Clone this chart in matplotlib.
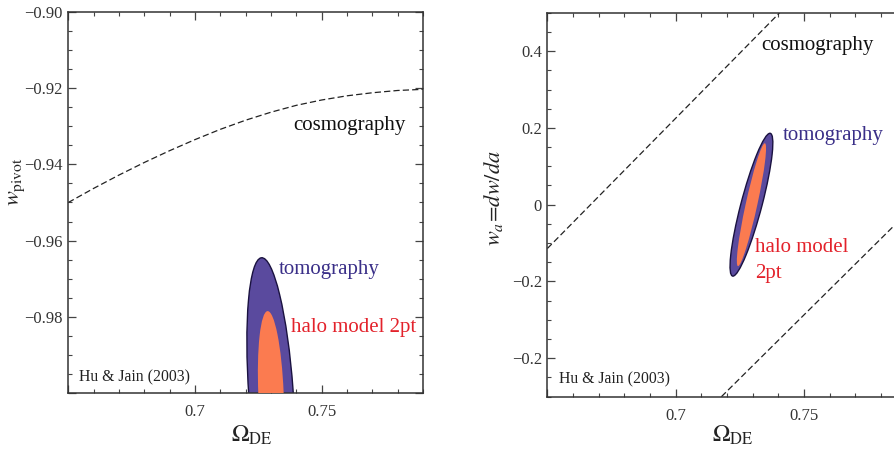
import numpy as np
import matplotlib
matplotlib.use("Agg")
import matplotlib.pyplot as plt
from matplotlib.patches import Ellipse

plt.rcParams['font.family'] = ['Liberation Serif', 'DejaVu Serif']
plt.rcParams['mathtext.fontset'] = 'stix'

# cosmography curve, w_pivot vs Omega_DE
omega_cosmo = [0.65, 0.66, 0.67, 0.68, 0.69, 0.70, 0.71, 0.72,
               0.73, 0.74, 0.75, 0.76, 0.77, 0.78, 0.79]
wpivot_cosmo = [-0.9500, -0.9463, -0.9428, -0.9395, -0.9364, -0.9335, -0.9308,
                -0.9284, -0.9263, -0.9245, -0.9231, -0.9220, -0.9212, -0.9206,
                -0.9203]

# cosmography bounds, w_a vs Omega_DE (two straight edges)
omega_cosmo_hi = [0.65, 0.7405]
wa_cosmo_hi = [-0.114, 0.5]
omega_cosmo_lo = [0.7178, 0.79]
wa_cosmo_lo = [-0.5, -0.022]

# error ellipses: centre, sigma_x, sigma_y, correlation
tomo_pivot = dict(center=(0.730, -1.0), sx=0.00951, sy=0.0355, rho=-0.379)
halo_pivot = dict(center=(0.730, -1.0), sx=0.00517, sy=0.0215, rho=-0.252)
tomo_wa = dict(center=(0.7295, 0.0), sx=0.00834, sy=0.186, rho=0.864)
halo_wa = dict(center=(0.7295, 0.0), sx=0.00569, sy=0.160, rho=0.915)

purple = '#5a4a9e'
coral = '#fb7b50'
navy = '#3a2f88'
red = '#e3222b'


def cov_ellipse(p, **kw):
    sx, sy, rho = p['sx'], p['sy'], p['rho']
    cov = np.array([[sx * sx, rho * sx * sy], [rho * sx * sy, sy * sy]])
    vals, vecs = np.linalg.eigh(cov)
    ang = np.degrees(np.arctan2(vecs[1, 1], vecs[0, 1]))
    return Ellipse(p['center'], 2 * np.sqrt(vals[1]), 2 * np.sqrt(vals[0]),
                   angle=ang, **kw)


def style_axes(ax):
    for s in ax.spines.values():
        s.set_color('#333333')
        s.set_linewidth(1.1)
    ax.tick_params(which='both', direction='in', top=True, right=True,
                   colors='#444444', labelcolor='#333333', labelsize=12)
    ax.tick_params(which='major', length=6, width=0.9)
    ax.tick_params(which='minor', length=3, width=0.8)
    ax.tick_params(axis='x', pad=8)
    ax.tick_params(axis='y', pad=4)


fig = plt.figure(figsize=(8.95, 4.49), dpi=100)

# left panel: w_pivot
ax1 = fig.add_axes([0.0763, 0.1247, 0.3963, 0.8486])
ax1.plot(omega_cosmo, wpivot_cosmo, color='#222222', lw=0.9,
         linestyle=(0, (5, 2.5)))
ax1.add_patch(cov_ellipse(tomo_pivot, facecolor=purple, edgecolor='#1a1240',
                          lw=1.0, zorder=2))
ax1.add_patch(cov_ellipse(halo_pivot, facecolor=coral, edgecolor='none',
                          zorder=3))
ax1.set_xlim(0.65, 0.79)
ax1.set_ylim(-1.0, -0.90)
ax1.set_xticks([0.65, 0.70, 0.75], ['', '0.7', '0.75'])
ax1.set_xticks(np.arange(0.65, 0.7901, 0.01), minor=True)
ax1.set_yticks([-1.0, -0.98, -0.96, -0.94, -0.92, -0.90],
               ['', '\u22120.98', '\u22120.96', '\u22120.94', '\u22120.92',
                '\u22120.90'])
ax1.set_yticks(np.arange(-1.0, -0.8999, 0.005), minor=True)
style_axes(ax1)

ax1.text(0.7388, -0.9299, 'cosmography', fontsize=15, color='#111111',
         va='center')
ax1.text(0.7329, -0.9675, 'tomography', fontsize=15, color=navy, va='center')
ax1.text(0.7379, -0.9828, 'halo model 2pt', fontsize=15, color=red,
         va='center')
ax1.text(0.6542, -0.9959, 'Hu & Jain (2003)', fontsize=11.3,
         color='#222222', va='center')
ax1.text(0.518, -0.112, r'$\Omega_{\rm DE}$', transform=ax1.transAxes,
         fontsize=17, ha='center', va='center', color='#222222')
ax1.text(-0.145, 0.555, r'$w_{\rm pivot}$', transform=ax1.transAxes,
         fontsize=16, rotation=90, ha='center', va='center', color='#222222')

# right panel: w_a
ax2 = fig.add_axes([0.6116, 0.1165, 0.4015, 0.8552])
ax2.plot(omega_cosmo_hi, wa_cosmo_hi, color='#222222', lw=0.9,
         linestyle=(0, (5, 2.5)))
ax2.plot(omega_cosmo_lo, wa_cosmo_lo, color='#222222', lw=0.9,
         linestyle=(0, (5, 2.5)))
ax2.add_patch(cov_ellipse(tomo_wa, facecolor=purple, edgecolor='#1a1240',
                          lw=1.0, zorder=2))
ax2.add_patch(cov_ellipse(halo_wa, facecolor=coral, edgecolor='none',
                          zorder=3))
ax2.set_xlim(0.65, 0.79)
ax2.set_ylim(-0.5, 0.5)
ax2.set_xticks([0.65, 0.70, 0.75], ['', '0.7', '0.75'])
ax2.set_xticks(np.arange(0.65, 0.7901, 0.01), minor=True)
ax2.set_yticks([-0.4, -0.2, 0.0, 0.2, 0.4],
               ['\u22120.2', '\u22120.2', '0', '0.2', '0.4'])
ax2.set_yticks(np.arange(-0.5, 0.5001, 0.05), minor=True)
style_axes(ax2)

ax2.text(0.7334, 0.4138, 'cosmography', fontsize=15, color='#111111',
         va='center')
ax2.text(0.7416, 0.180, 'tomography', fontsize=15, color=navy, va='center')
ax2.text(0.7308, -0.1117, 'halo model', fontsize=15, color=red, va='center')
ax2.text(0.7308, -0.179, '2pt', fontsize=15, color=red, va='center')
ax2.text(0.6546, -0.4547, 'Hu & Jain (2003)', fontsize=11.3,
         color='#222222', va='center')
ax2.text(0.517, -0.100, r'$\Omega_{\rm DE}$', transform=ax2.transAxes,
         fontsize=17, ha='center', va='center', color='#222222')
ax2.text(-0.149, 0.517, r'$w_a\!=\!dw/da$', transform=ax2.transAxes,
         fontsize=16, rotation=90, ha='center', va='center', color='#222222')

fig.savefig('out.png', dpi=100)
